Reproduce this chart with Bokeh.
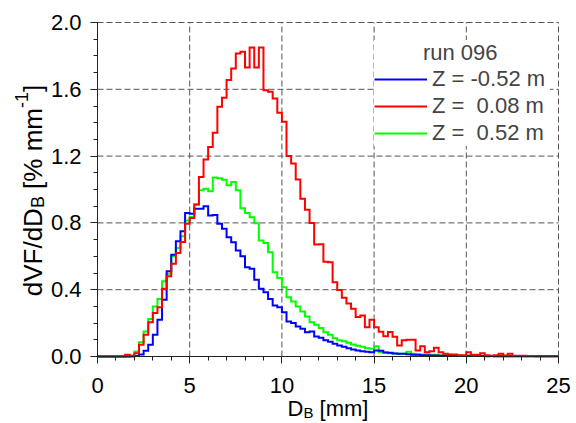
from math import pi

import numpy as np
from bokeh.embed import file_html
from bokeh.models import (FixedTicker, Label, Legend, LegendItem, LinearAxis,
                          PrintfTickFormatter, Range1d)
from bokeh.plotting import figure
from bokeh.resources import INLINE

# ---- data: volume-fraction size distributions, 0.25 mm bins from 0 to 25 mm ----
bin_edges = np.arange(0.0, 25.0001, 0.25)

dvf_z_m052 = [  # Z = -0.52 m
    0, 0, 0, 0,
    0, 0, 0, 0,
    0.003, 0.012, 0.035, 0.07,
    0.13, 0.22, 0.34, 0.51,
    0.61, 0.69, 0.75, 0.86,
    0.855, 0.885, 0.885, 0.90,
    0.845, 0.848, 0.795, 0.765,
    0.714, 0.684, 0.635, 0.60,
    0.535, 0.525, 0.46, 0.405,
    0.385, 0.345, 0.305, 0.295,
    0.265, 0.21, 0.20, 0.18,
    0.166, 0.145, 0.15, 0.12,
    0.112, 0.098, 0.088, 0.076,
    0.066, 0.058, 0.05, 0.042,
    0.036, 0.032, 0.028, 0.026,
    0.036, 0.034, 0.024, 0.022,
    0.018, 0.016, 0.016, 0.014,
    0.01, 0.01, 0.008, 0.008,
    0.006, 0.006, 0.005, 0.005,
    0.004, 0.004, 0.004, 0.003,
    0.004, 0.003, 0.003, 0.003,
    0.002, 0.003, 0.002, 0.002,
    0.002, 0.002, 0.002, 0.001,
    0.001, 0.002, 0.001, 0.001,
    0.001, 0.001, 0.001, 0.001,
]

dvf_z_p008 = [  # Z = 0.08 m
    0, 0, 0, 0,
    0, 0, 0.01, 0.004,
    0.02, 0.07, 0.13, 0.205,
    0.26, 0.295, 0.405, 0.48,
    0.555, 0.62, 0.685, 0.795,
    0.83, 0.91, 1.075, 1.18,
    1.255, 1.34, 1.495, 1.55,
    1.655, 1.725, 1.815, 1.825,
    1.73, 1.85, 1.73, 1.85,
    1.595, 1.585, 1.545, 1.46,
    1.405, 1.20, 1.155, 1.06,
    0.945, 0.878, 0.80, 0.67,
    0.672, 0.568, 0.565, 0.445,
    0.398, 0.352, 0.318, 0.286,
    0.236, 0.246, 0.175, 0.22,
    0.175, 0.148, 0.122, 0.146,
    0.118, 0.066, 0.098, 0.10,
    0.10, 0.036, 0.062, 0.026,
    0.032, 0.052, 0.026, 0.016,
    0.012, 0.012, 0.008, 0.008,
    0.026, 0.01, 0.01, 0.02,
    0.008, 0.005, 0.008, 0.016,
    0.006, 0.016, 0.004, 0.005,
    0.004, 0.003, 0.003, 0.002,
    0.002, 0.002, 0.001, 0.001,
]

dvf_z_p052 = [  # Z = 0.52 m
    0, 0, 0, 0,
    0, 0, 0, 0.005,
    0.03, 0.085, 0.15, 0.225,
    0.30, 0.345, 0.45, 0.495,
    0.60, 0.65, 0.72, 0.815,
    0.835, 0.91, 0.995, 1.004,
    0.99, 1.072, 1.068, 1.058,
    1.026, 1.045, 0.995, 0.888,
    0.86, 0.834, 0.798, 0.695,
    0.68, 0.625, 0.505, 0.47,
    0.415, 0.355, 0.33, 0.30,
    0.27, 0.24, 0.205, 0.19,
    0.17, 0.145, 0.13, 0.11,
    0.098, 0.092, 0.082, 0.072,
    0.064, 0.058, 0.05, 0.046,
    0.062, 0.026, 0.024, 0.02,
    0.018, 0.016, 0.016, 0.028,
    0.016, 0.012, 0.012, 0.012,
    0.01, 0.01, 0.008, 0.008,
    0.006, 0.006, 0.005, 0.005,
    0.004, 0.004, 0.004, 0.003,
    0.003, 0.003, 0.002, 0.002,
    0.002, 0.002, 0.002, 0.002,
    0.001, 0.001, 0.001, 0.001,
    0.001, 0.001, 0.001, 0.001,
]

series_labels = ["Z = -0.52 m", "Z =\u00a0 0.08 m", "Z =\u00a0 0.52 m"]
series_colors = ["#0000ff", "#ff0000", "#00ff00"]
legend_title = "run 096"

x_lim = (0, 25)
y_lim = (0.0, 2.0)
x_major = [0, 5, 10, 15, 20, 25]
y_major = [0.0, 0.4, 0.8, 1.2, 1.6, 2.0]
x_minor = list(range(0, 26))
y_minor = [round(0.1 * i, 1) for i in range(21)]

FONT = "Liberation Sans"
SIZE = 22
YT_SIZE, YT_SUB = 26, 18
NBSP = "\u00a0"

# ---- page geometry (pixels): the data box sits inside a 576 x 423 canvas ----
W, H = 576, 423
BOX_L, BOX_R, BOX_T, BOX_B = 97, 558, 22, 356
sx = (BOX_R - BOX_L) / (x_lim[1] - x_lim[0])
sy = (BOX_B - BOX_T) / (y_lim[1] - y_lim[0])
x_range = Range1d(x_lim[0] - BOX_L / sx, x_lim[1] + (W - BOX_R) / sx)
y_range = Range1d(y_lim[0] - (H - BOX_B) / sy, y_lim[1] + BOX_T / sy)

p = figure(width=W, height=H, x_range=x_range, y_range=y_range,
           x_axis_location=None, y_axis_location=None,
           output_backend="svg", toolbar_location=None,
           min_border=0, min_border_left=0, min_border_right=0,
           min_border_top=0, min_border_bottom=0)
p.background_fill_color = "white"
p.border_fill_color = "white"
p.outline_line_color = None
p.xgrid.visible = False
p.ygrid.visible = False

# dashed grid over the data box, including its top and right edges
GRID = dict(line_color="#555555", line_dash="6 3", line_width=1)
p.multi_line(xs=[[x, x] for x in x_major[1:]], ys=[list(y_lim)] * (len(x_major) - 1), **GRID)
p.multi_line(xs=[list(x_lim)] * (len(y_major) - 1), ys=[[y, y] for y in y_major[1:]], **GRID)

# step histograms, drawn green, blue, red (red on top)
renderers = {}
for key, vals, col in (("g", dvf_z_p052, series_colors[2]),
                       ("b", dvf_z_m052, series_colors[0]),
                       ("r", dvf_z_p008, series_colors[1])):
    yv = list(vals) + [vals[-1]]
    renderers[key] = p.step(x=bin_edges, y=yv, mode="after", line_color=col,
                            line_width=2, line_join="miter")

# axes pinned to the data origin
xaxis = LinearAxis(fixed_location=y_lim[0], bounds=x_lim,
                   ticker=FixedTicker(ticks=x_major, minor_ticks=x_minor),
                   formatter=PrintfTickFormatter(format="%d"),
                   major_label_standoff=14)
yaxis = LinearAxis(fixed_location=x_lim[0], bounds=y_lim,
                   ticker=FixedTicker(ticks=y_major, minor_ticks=y_minor),
                   formatter=PrintfTickFormatter(format="%.1f"),
                   major_label_standoff=9)
for ax in (xaxis, yaxis):
    ax.axis_line_color = "#222222"
    ax.axis_line_width = 1
    ax.major_tick_line_color = "#222222"
    ax.minor_tick_line_color = "#222222"
    ax.major_tick_out = 7
    ax.major_tick_in = 0
    ax.minor_tick_out = 4
    ax.minor_tick_in = 0
    ax.major_label_text_font = FONT
    ax.major_label_text_font_size = f"{SIZE}px"
    ax.major_label_text_color = "black"
p.add_layout(xaxis, "below")
p.add_layout(yaxis, "left")

legend = Legend(
    items=[LegendItem(label=series_labels[0], renderers=[renderers["b"]]),
           LegendItem(label=series_labels[1], renderers=[renderers["r"]]),
           LegendItem(label=series_labels[2], renderers=[renderers["g"]])],
    location=(374, H - 146),
    title=NBSP * 8 + legend_title,
    title_text_font=FONT, title_text_font_size=f"{SIZE}px",
    title_text_font_style="normal", title_standoff=0,
    label_text_font=FONT, label_text_font_size=f"{SIZE}px",
    glyph_width=53, glyph_height=22, label_height=22, label_width=118,
    label_standoff=5, spacing=1, padding=0, margin=0,
    border_line_color=None, background_fill_color="white", background_fill_alpha=1.0,
)
p.add_layout(legend)

# ---- axis titles with sub/superscripts, composed from text pieces ----
ADV = {"d": 556, "V": 667, "F": 611, "/": 278, "D": 722, "B": 667, " ": 278, NBSP: 278,
       "[": 278, "%": 889, "m": 833, "]": 278, "-": 333, "1": 556}


def width(s, size):
    return sum(ADV[c] for c in s) / 1000.0 * size


def compose(pieces, cx, cy, vertical):
    """Lay text pieces along one baseline centred on pixel (cx, cy)."""
    total = sum(width(t, s) for t, s, _ in pieces)
    pos = -total / 2.0
    for text, size, shift in pieces:
        if vertical:
            px, py, ang = cx - shift, cy - pos, pi / 2
        else:
            px, py, ang = cx + pos, cy - shift, 0
        p.add_layout(Label(x=px, y=H - py, x_units="screen", y_units="screen", text=text,
                           angle=ang, text_font=FONT, text_font_size=f"{size}px",
                           text_align="left", text_baseline="alphabetic",
                           text_color="black"))
        pos += width(text, size)


compose([("dVF/dD", YT_SIZE, 0), ("B", YT_SUB, -5), (NBSP + "[% mm", YT_SIZE, 0),
         ("-1", YT_SUB, 11), ("]", YT_SIZE, 0)],
        cx=32, cy=190, vertical=True)
compose([("D", SIZE, 0), ("B", 15, -4), (NBSP + "[mm]", SIZE, 0)],
        cx=(BOX_L + BOX_R) / 2.0, cy=408, vertical=False)

open("out.html", "w").write(file_html(p, INLINE))
